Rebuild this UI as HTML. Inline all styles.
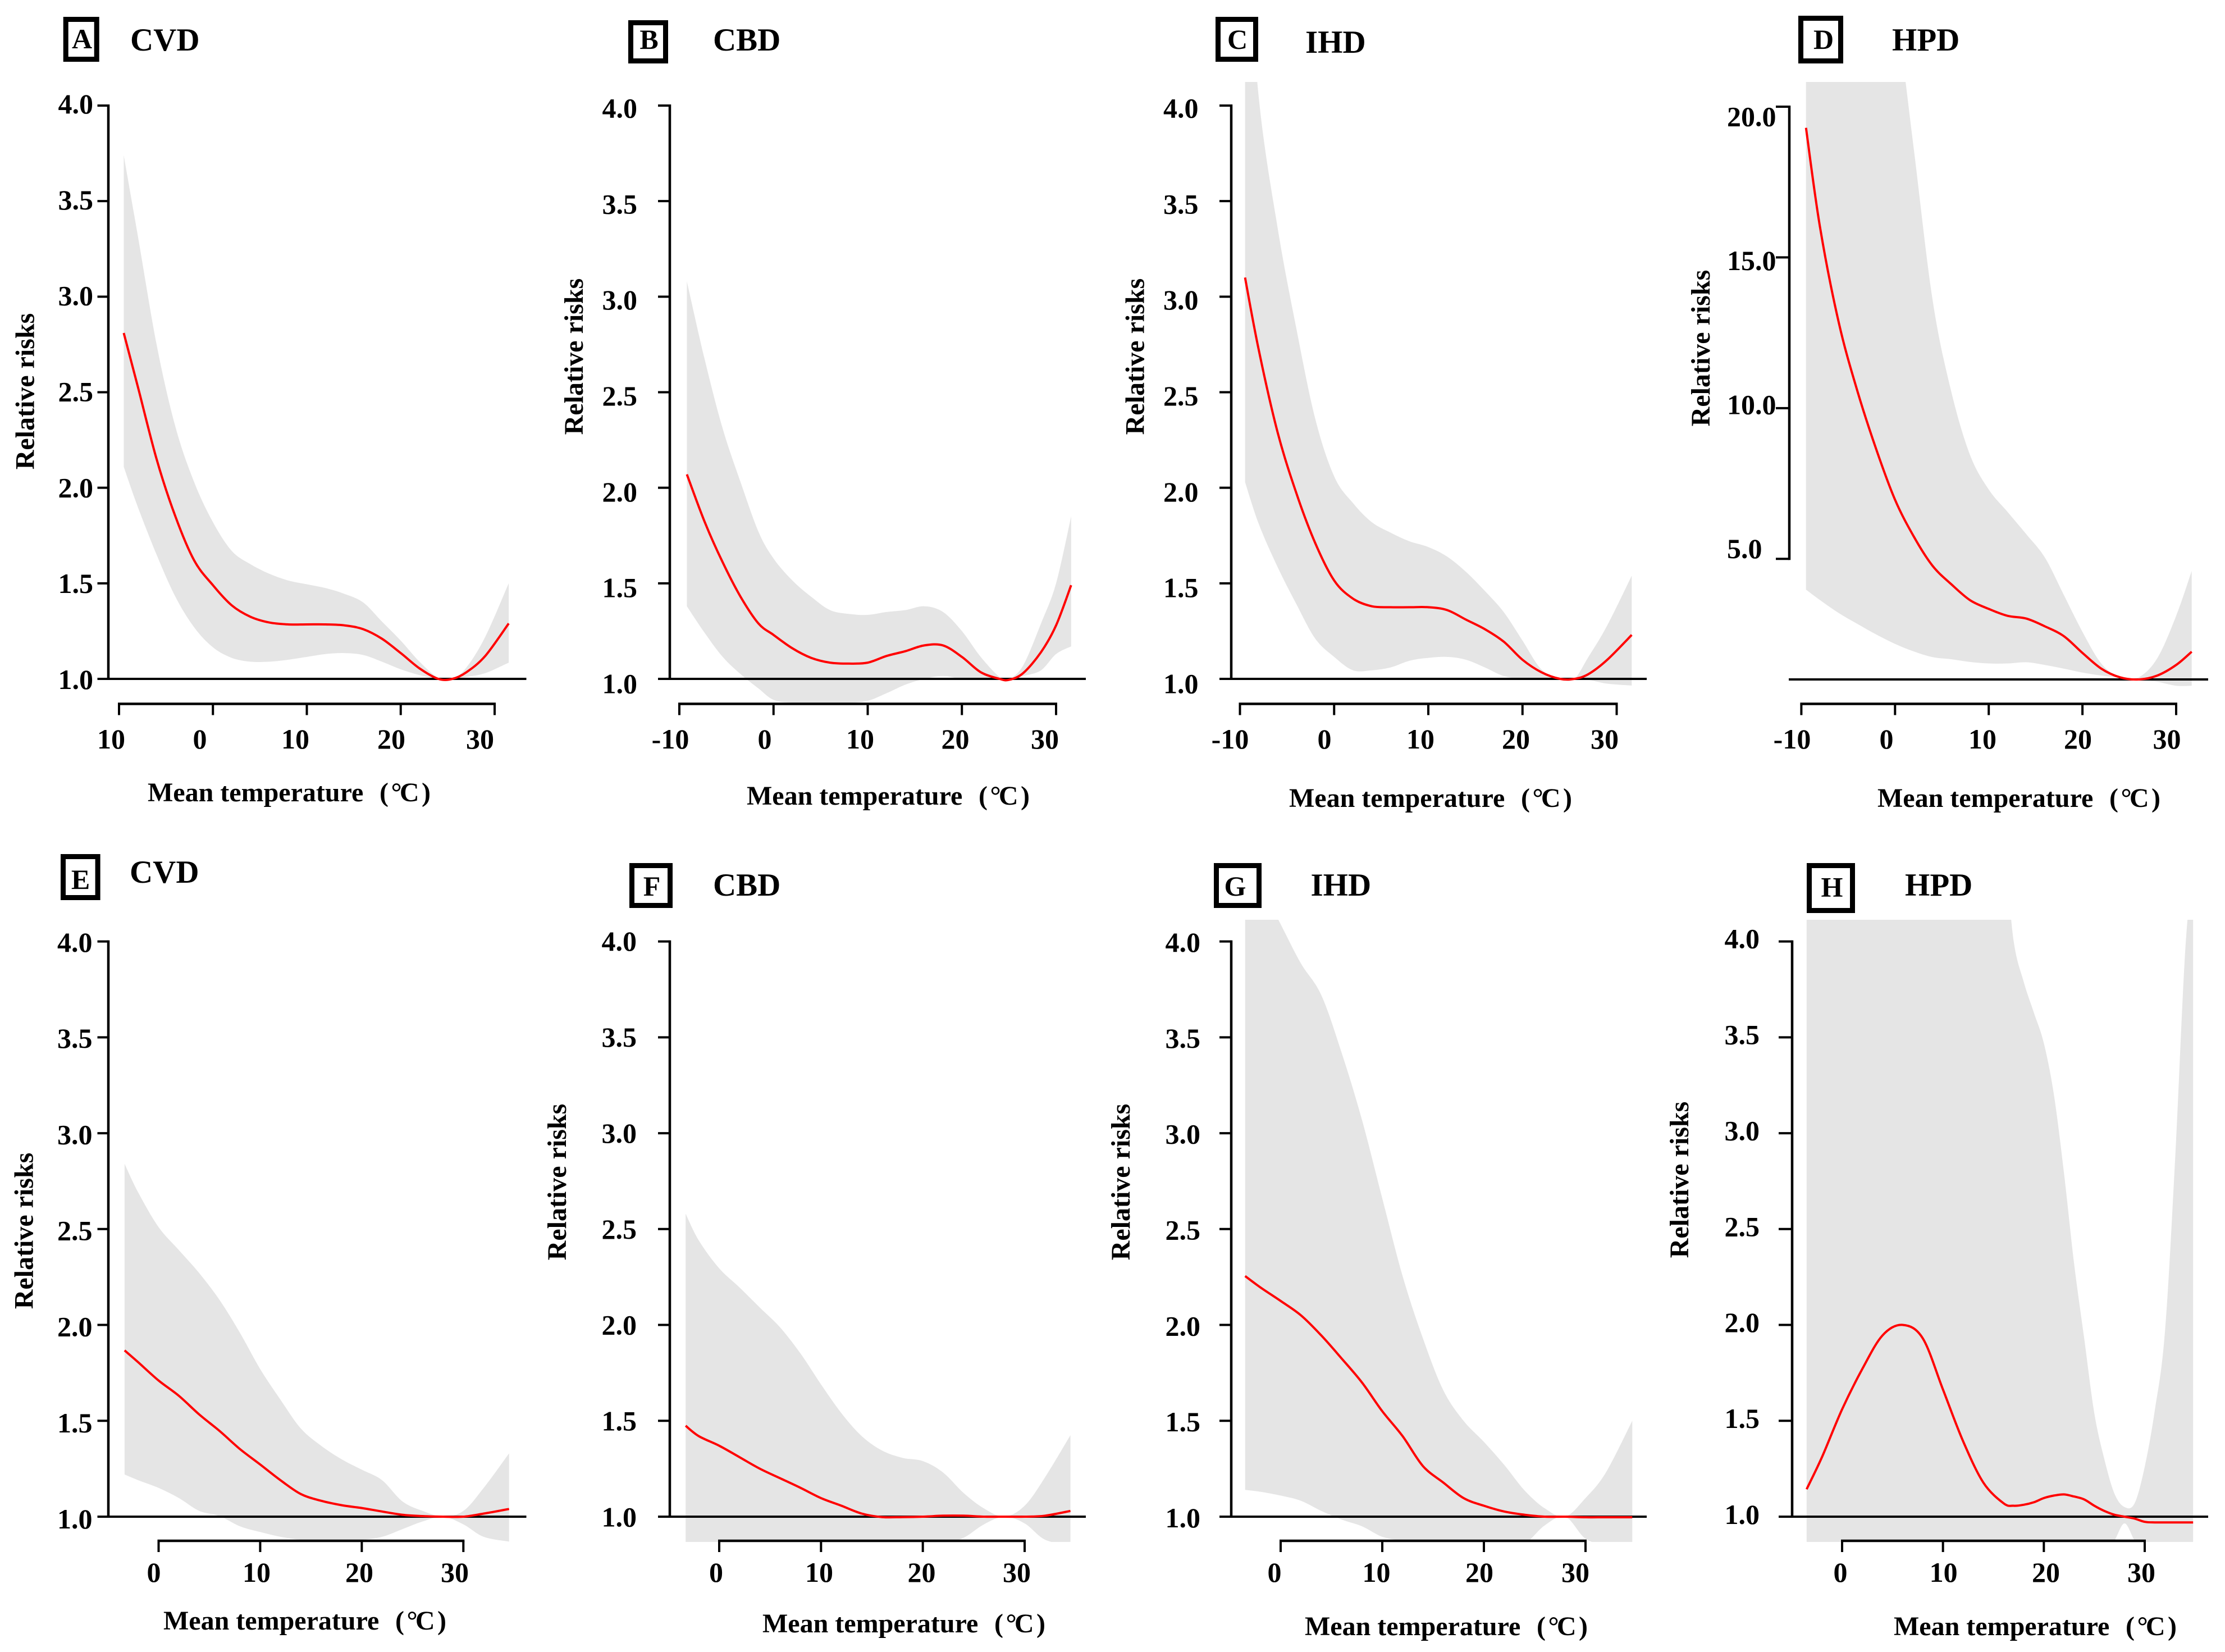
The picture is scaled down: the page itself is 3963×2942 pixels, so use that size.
<!DOCTYPE html>
<html lang="en">
<head>
<meta charset="utf-8">
<title>Relative risks by mean temperature</title>
<style>
  html, body { margin: 0; padding: 0; background: #ffffff; }
  #figure { display: block; }
  text { font-family: "Liberation Serif", serif; font-weight: bold; fill: #000000; }
</style>
</head>
<body>
<svg id="figure" xmlns="http://www.w3.org/2000/svg" width="3963" height="2942" viewBox="0 0 3963 2942"></svg>
<script>
// ---- tick values and labels ----
const yTicksRR = [4, 3.5, 3, 2.5, 2, 1.5, 1];
const yLabelsRR = ["4.0", "3.5", "3.0", "2.5", "2.0", "1.5", "1.0"];
const yTicksD = [20, 15, 10, 5];
const yLabelsD = ["20.0", "15.0", "10.0", "5.0"];
const xTicksTop = [-10, 0, 10, 20, 30];
const xLabelsA = ["10", "0", "10", "20", "30"];
const xLabelsTop = ["-10", "0", "10", "20", "30"];
const xTicksBottom = [0, 10, 20, 30];
const xLabelsBottom = ["0", "10", "20", "30"];

// ---- Panel A: CVD ----
const tempsA = [-9.5,-8,-6,-4,-2,0,2,4,6,8,10,12,14,16,18,20,22,24,25.5,27,29,31.5];
const meanA = [2.81,2.53,2.15,1.85,1.62,1.49,1.385,1.325,1.295,1.285,1.285,1.285,1.28,1.26,1.21,1.135,1.055,1.0,1.0,1.035,1.12,1.29];
const upperA = [3.74,3.32,2.75,2.32,2.03,1.82,1.67,1.60,1.55,1.515,1.495,1.475,1.445,1.40,1.30,1.20,1.09,1.005,1.0,1.06,1.22,1.50];
const lowerA = [2.11,1.90,1.65,1.43,1.27,1.165,1.11,1.09,1.09,1.10,1.115,1.13,1.135,1.125,1.09,1.05,1.02,1.0,1.0,1.01,1.03,1.085];

// ---- Panel B: CBD ----
const tempsB = [-9.2,-7.3,-5.4,-3.5,-1.6,0,2,4,6,8,10,12,14,16,18,20,22,24,25,26.5,28.4,30,31.6];
const meanB = [2.07,1.82,1.61,1.43,1.29,1.23,1.16,1.11,1.085,1.08,1.085,1.12,1.145,1.175,1.175,1.115,1.035,1.0,0.995,1.03,1.14,1.28,1.49];
const upperB = [3.08,2.67,2.31,2.03,1.77,1.63,1.515,1.43,1.36,1.34,1.335,1.35,1.36,1.38,1.35,1.25,1.115,1.01,1.0,1.07,1.29,1.5,1.85];
const lowerB = [1.38,1.24,1.115,1.025,0.95,0.89,0.875,0.875,0.875,0.875,0.885,0.925,0.97,1.0,1.015,1.0,1.0,1.0,1.0,1.015,1.045,1.13,1.17];

// ---- Panel C: IHD ----
const tempsC = [-9.46,-8,-6,-4,-2,0,2,4,6,8,10,12,14,16,18,20,22,24,25.5,27,29,31.6];
const meanC = [3.10,2.72,2.29,1.97,1.71,1.515,1.42,1.38,1.375,1.375,1.375,1.36,1.31,1.26,1.195,1.10,1.035,1.0,1.0,1.025,1.10,1.23];
const upperC = [5.0,4.04,3.36,2.83,2.36,2.06,1.92,1.82,1.765,1.72,1.69,1.64,1.56,1.46,1.35,1.2,1.05,1.0,1.0,1.115,1.28,1.54];
const lowerC = [2.03,1.81,1.585,1.39,1.21,1.115,1.045,1.045,1.06,1.095,1.11,1.115,1.10,1.06,1.015,1.0,1.0,1.0,1.0,0.995,0.975,0.965];

// ---- Panel D: HPD ----
const tempsD = [-9.5,-8,-6,-4,-2,0,2,4,6,8,10,12,14,16,18,20,22,24,26,28,30,31.66];
const meanD = [19.3,15.99,12.83,10.55,8.63,6.96,5.74,4.77,4.16,3.63,3.34,3.11,3.02,2.76,2.44,1.88,1.36,1.07,1.0,1.13,1.48,1.92];
const upperD = [36,35,33,30,27,23.5,18.6,13.6,10.55,8.45,7.3,6.56,5.82,5.04,3.81,2.58,1.53,1.07,1.07,1.71,3.11,4.6];
const lowerD = [3.98,3.63,3.2,2.84,2.49,2.18,1.93,1.74,1.67,1.58,1.53,1.53,1.57,1.48,1.36,1.23,1.13,1.06,1.0,0.92,0.79,0.79];

// ---- Panel E: CVD ----
const tempsE = [-3.35,-2,0,2,4,6,8,10,12,14,16,18,20,22,24,26,28,30,32,34.5];
const meanE = [1.867,1.805,1.71,1.63,1.533,1.447,1.353,1.272,1.19,1.118,1.083,1.06,1.045,1.027,1.01,1.003,1.0,1.0,1.016,1.04];
const upperE = [2.84,2.69,2.51,2.39,2.27,2.13,1.96,1.77,1.61,1.46,1.37,1.30,1.245,1.19,1.08,1.03,1.0,1.03,1.15,1.33];
const lowerE = [1.22,1.19,1.15,1.097,1.03,1.003,0.95,0.92,0.895,0.88,0.88,0.88,0.88,0.895,0.935,0.975,1.0,0.96,0.895,0.87];

// ---- Panel F: CBD ----
const tempsF = [-3.3,-2,0,2,4,6,8,10,12,14,16,18,20,22,24,26,28,30,32,34.5];
const meanF = [1.474,1.42,1.37,1.31,1.25,1.20,1.15,1.097,1.057,1.016,0.998,0.998,1.0,1.005,1.005,1.0,1.0,1.0,1.005,1.03];
const upperF = [2.58,2.44,2.295,2.195,2.09,1.986,1.85,1.69,1.54,1.42,1.345,1.307,1.29,1.23,1.124,1.043,1.0,1.057,1.205,1.425];
const lowerF = [0.85,0.85,0.85,0.85,0.85,0.85,0.85,0.85,0.85,0.85,0.85,0.85,0.85,0.86,0.89,0.96,1.0,0.965,0.88,0.85];

// ---- Panel G: IHD ----
const tempsG = [-3.5,-2,0,2,4,6,8,10,12,14,16,18,20,22,24,26,28,30,32,34.6];
const meanG = [2.255,2.196,2.125,2.05,1.945,1.825,1.70,1.55,1.42,1.264,1.178,1.097,1.057,1.027,1.01,1.0,1.0,0.997,0.997,0.997];
const upperG = [4.5,4.3,4.09,3.885,3.72,3.42,3.07,2.66,2.255,1.93,1.66,1.50,1.39,1.27,1.137,1.043,1.0,1.097,1.23,1.50];
const lowerG = [1.14,1.13,1.11,1.083,1.03,0.985,0.95,0.895,0.875,0.86,0.86,0.86,0.86,0.86,0.86,0.955,1.0,0.885,0.855,0.85];

// ---- Panel H: HPD ----
const tempsH = [-3.52,-2,0,2,4,6,8,10,12,14,16,17,18,19,20,21,22,23,24,25,26,27,28,29,30,31,32,33,34,34.8];
const meanH = [1.143,1.31,1.56,1.77,1.945,2.0,1.93,1.663,1.393,1.178,1.07,1.057,1.062,1.075,1.097,1.11,1.116,1.105,1.09,1.057,1.03,1.01,1.0,0.99,0.973,0.97,0.97,0.97,0.97,0.97];
const upperH = [5,5,5,5,5,5,5,5,5,5,4.5,4.005,3.79,3.63,3.47,3.2,2.79,2.32,1.93,1.54,1.30,1.12,1.05,1.07,1.26,1.555,1.96,2.85,3.94,4.4];
const lowerH = [0.8,0.8,0.8,0.8,0.8,0.8,0.8,0.8,0.8,0.8,0.8,0.8,0.8,0.8,0.8,0.8,0.8,0.8,0.8,0.8,0.8,0.875,0.965,0.875,0.8,0.8,0.8,0.8,0.8,0.8];

// ---- Panel layout (axis ranges and text placement) ----
const row1 = { clipTop: 146, clipBottom: 1255, axisY: 1253.5, tickLabelY: 1333 };
const row2 = { clipTop: 1638, clipBottom: 2746, axisY: 2744, tickLabelY: 2817 };

const panels = [
  { id: "A", title: "CVD", row: row1, temps: tempsA, mean: meanA, upper: upperA, lower: lowerA,
    xTicks: xTicksTop, xLabels: xLabelsA, yTicks: yTicksRR, yLabels: yLabelsRR,
    xDomain: [-10, 30], xRange: [212, 881], yDomain: [1, 4], yRange: [1209, 188],
    axisX: 193, tickLeft: 173.5, baseRight: 937.5, yLabelRight: 166, yLabelTop: 202, yLabelBottom: 1227,
    xLabelAt: [198, 356, 526, 697, 855], yTitleX: 60.6, yTitleY: 697,
    titleX: 232, titleY: 90, box: [112.7, 30, 176.7, 110], letterX: 146, letterY: 86,
    xTitleX: 263, xTitleY: 1427 },
  { id: "B", title: "CBD", row: row1, temps: tempsB, mean: meanB, upper: upperB, lower: lowerB,
    xTicks: xTicksTop, xLabels: xLabelsTop, yTicks: yTicksRR, yLabels: yLabelsRR,
    xDomain: [-10, 30], xRange: [1210, 1881], yDomain: [1, 4], yRange: [1209, 188],
    axisX: 1193, tickLeft: 1172, baseRight: 1934, yLabelRight: 1135, yLabelTop: 209.5, yLabelBottom: 1234.5,
    xLabelAt: [1194, 1362, 1532, 1701.5, 1861], yTitleX: 1038, yTitleY: 635,
    titleX: 1270, titleY: 90, box: [1119, 36, 1190, 113], letterX: 1156, letterY: 87,
    xTitleX: 1330, xTitleY: 1433 },
  { id: "C", title: "IHD", row: row1, temps: tempsC, mean: meanC, upper: upperC, lower: lowerC,
    xTicks: xTicksTop, xLabels: xLabelsTop, yTicks: yTicksRR, yLabels: yLabelsRR,
    xDomain: [-10, 30], xRange: [2208.5, 2879.5], yDomain: [1, 4], yRange: [1209, 188],
    axisX: 2193, tickLeft: 2172, baseRight: 2933, yLabelRight: 2134.5, yLabelTop: 209.5, yLabelBottom: 1234.5,
    xLabelAt: [2191, 2359, 2530, 2700, 2858], yTitleX: 2037.6, yTitleY: 635,
    titleX: 2325, titleY: 94, box: [2165, 30, 2241, 110], letterX: 2204, letterY: 87,
    xTitleX: 2296, xTitleY: 1437 },
  { id: "D", title: "HPD", row: row1, temps: tempsD, mean: meanD, upper: upperD, lower: lowerD,
    xTicks: xTicksTop, xLabels: xLabelsTop, yTicks: yTicksD, yLabels: yLabelsD,
    xDomain: [-10, 30], xRange: [3208.4, 3876], yDomain: [1, 20], yRange: [1210, 190],
    axisX: 3187, tickLeft: 3163, baseRight: 3933, baseLeft: 3186, yLabelLeft: 3076, yLabelTop: 224.6, yLabelBottom: 994,
    xLabelAt: [3192, 3360, 3531, 3701, 3859.5], yTitleX: 3045, yTitleY: 620,
    titleX: 3370, titleY: 90, box: [3203, 28, 3283, 113], letterX: 3248, letterY: 87,
    xTitleX: 3344, xTitleY: 1437 },
  { id: "E", title: "CVD", row: row2, temps: tempsE, mean: meanE, upper: upperE, lower: lowerE,
    xTicks: xTicksBottom, xLabels: xLabelsBottom, yTicks: yTicksRR, yLabels: yLabelsRR,
    xDomain: [0, 30], xRange: [282.5, 825.3], yDomain: [1, 4], yRange: [2701, 1676.6],
    axisX: 193, tickLeft: 173.5, baseRight: 937.5, yLabelRight: 164.5, yLabelTop: 1695, yLabelBottom: 2722,
    xLabelAt: [274, 457, 640, 810], yTitleX: 58.7, yTitleY: 2192,
    titleX: 231, titleY: 1572, box: [108, 1521, 178.6, 1603], letterX: 143.5, letterY: 1583,
    xTitleX: 291, xTitleY: 2902 },
  { id: "F", title: "CBD", row: row2, temps: tempsF, mean: meanF, upper: upperF, lower: lowerF,
    xTicks: xTicksBottom, xLabels: xLabelsBottom, yTicks: yTicksRR, yLabels: yLabelsRR,
    xDomain: [0, 30], xRange: [1281, 1825], yDomain: [1, 4], yRange: [2701, 1676.6],
    axisX: 1193, tickLeft: 1172, baseRight: 1934, yLabelRight: 1134, yLabelTop: 1693, yLabelBottom: 2718.5,
    xLabelAt: [1275.5, 1459, 1641.5, 1811], yTitleX: 1008, yTitleY: 2105,
    titleX: 1270, titleY: 1595, box: [1121, 1537, 1198, 1617], letterX: 1161, letterY: 1595,
    xTitleX: 1358, xTitleY: 2907 },
  { id: "G", title: "IHD", row: row2, temps: tempsG, mean: meanG, upper: upperG, lower: lowerG,
    xTicks: xTicksBottom, xLabels: xLabelsBottom, yTicks: yTicksRR, yLabels: yLabelsRR,
    xDomain: [0, 30], xRange: [2281, 2824], yDomain: [1, 4], yRange: [2701, 1676.6],
    axisX: 2193, tickLeft: 2172, baseRight: 2933, yLabelRight: 2138, yLabelTop: 1695, yLabelBottom: 2720,
    xLabelAt: [2270, 2451.5, 2635, 2806], yTitleX: 2012, yTitleY: 2105,
    titleX: 2334.5, titleY: 1595, box: [2162, 1537, 2247, 1617], letterX: 2200, letterY: 1595,
    xTitleX: 2324, xTitleY: 2912 },
  { id: "H", title: "HPD", row: row2, temps: tempsH, mean: meanH, upper: upperH, lower: lowerH,
    xTicks: xTicksBottom, xLabels: xLabelsBottom, yTicks: yTicksRR, yLabels: yLabelsRR,
    xDomain: [0, 30], xRange: [3281, 3820], yDomain: [1, 4], yRange: [2701, 1676.6],
    axisX: 3192, tickLeft: 3168, baseRight: 3933, yLabelRight: 3134, yLabelTop: 1688.5, yLabelBottom: 2714,
    xLabelAt: [3278, 3461.6, 3644, 3814], yTitleX: 3007, yTitleY: 2101,
    titleX: 3393, titleY: 1595, box: [3218, 1537, 3304, 1626], letterX: 3263, letterY: 1596.5,
    xTitleX: 3373, xTitleY: 2912 }
];

const SVG_NS = "http://www.w3.org/2000/svg";
const root = document.getElementById("figure");

function make(tag, geometry, parent, text) {
  const node = document.createElementNS(SVG_NS, tag);
  Object.keys(geometry).forEach(function (key) { node.setAttribute(key, geometry[key]); });
  if (text !== undefined) { node.textContent = text; }
  parent.appendChild(node);
  return node;
}

function linearScale(domain, range) {
  return function (v) {
    return range[0] + (v - domain[0]) * (range[1] - range[0]) / (domain[1] - domain[0]);
  };
}

// Catmull-Rom segments through the given points, appended after the current point.
function curveThrough(pts) {
  let d = "";
  for (let i = 0; i < pts.length - 1; i++) {
    const p0 = pts[Math.max(i - 1, 0)];
    const p1 = pts[i];
    const p2 = pts[i + 1];
    const p3 = pts[Math.min(i + 2, pts.length - 1)];
    const c1x = p1[0] + (p2[0] - p0[0]) / 6;
    const c1y = p1[1] + (p2[1] - p0[1]) / 6;
    const c2x = p2[0] - (p3[0] - p1[0]) / 6;
    const c2y = p2[1] - (p3[1] - p1[1]) / 6;
    d += " C" + c1x.toFixed(1) + " " + c1y.toFixed(1) + " " + c2x.toFixed(1) + " " + c2y.toFixed(1) + " " + p2[0].toFixed(1) + " " + p2[1].toFixed(1);
  }
  return d;
}

function drawPanel(p) {
  const x = linearScale(p.xDomain, p.xRange);
  const y = linearScale(p.yDomain, p.yRange);

  const panel = make("g", {}, root);
  
  

  // clip for the confidence band
  const clip = make("clipPath", { id: "clip-" + p.id }, panel);
  make("rect", { x: p.axisX, y: p.row.clipTop, width: p.baseRight - p.axisX, height: p.row.clipBottom - p.row.clipTop }, clip);

  // confidence band
  const upperPts = p.temps.map(function (t, i) { return [x(t), y(p.upper[i])]; });
  const lowerPts = p.temps.map(function (t, i) { return [x(t), y(p.lower[i])]; }).reverse();
  const bandPath = "M" + upperPts[0][0].toFixed(1) + " " + upperPts[0][1].toFixed(1) + curveThrough(upperPts) +
    " L" + lowerPts[0][0].toFixed(1) + " " + lowerPts[0][1].toFixed(1) + curveThrough(lowerPts) + " Z";
  const band = make("path", { d: bandPath, fill: "#e5e5e5", stroke: "none", "clip-path": "url(#clip-" + p.id + ")" }, panel);
  
  

  // reference line at RR = 1
  const base = make("line", { x1: p.baseLeft !== undefined ? p.baseLeft : p.tickLeft, x2: p.baseRight, y1: y(1), y2: y(1), stroke: "#000", "stroke-width": 4 }, panel);
  
  

  // y axis
  const yTop = y(p.yTicks[0]);
  const yBottom = y(p.yTicks[p.yTicks.length - 1]);
  const yAxis = make("line", { x1: p.axisX, x2: p.axisX, y1: yTop - 2, y2: yBottom + 2, stroke: "#000", "stroke-width": 4.5 }, panel);
  
  

  p.yTicks.forEach(function (v, i) {
    const tick = make("line", { x1: p.tickLeft, x2: p.axisX, y1: y(v), y2: y(v), stroke: "#000", "stroke-width": 4 }, panel);
    
    
    const labelY = p.yLabelTop + (p.yLabelBottom - p.yLabelTop) * i / (p.yTicks.length - 1);
    const anchored = p.yLabelLeft !== undefined ? { x: p.yLabelLeft, "text-anchor": "start" } : { x: p.yLabelRight, "text-anchor": "end" };
    const label = make("text", { x: anchored.x, y: labelY, "text-anchor": anchored["text-anchor"], "font-size": 50 }, panel, p.yLabels[i]);
    
    
  });

  // x axis
  const xFirst = x(p.xTicks[0]);
  const xLast = x(p.xTicks[p.xTicks.length - 1]);
  const xAxis = make("line", { x1: xFirst - 2, x2: xLast + 2, y1: p.row.axisY, y2: p.row.axisY, stroke: "#000", "stroke-width": 4.5 }, panel);
  
  

  p.xTicks.forEach(function (v, i) {
    const tick = make("line", { x1: x(v), x2: x(v), y1: p.row.axisY, y2: p.row.axisY + 20, stroke: "#000", "stroke-width": 4 }, panel);
    
    
    const label = make("text", { x: p.xLabelAt[i], y: p.row.tickLabelY, "text-anchor": "middle", "font-size": 50 }, panel, p.xLabels[i]);
    
    
  });

  // mean curve
  const meanPts = p.temps.map(function (t, i) { return [x(t), y(p.mean[i])]; });
  const meanPath = "M" + meanPts[0][0].toFixed(1) + " " + meanPts[0][1].toFixed(1) + curveThrough(meanPts);
  const curve = make("path", { d: meanPath, fill: "none", stroke: "#ff0000", "stroke-width": 4 }, panel);
  
  

  // axis titles
  const yTitle = make("text", { x: p.yTitleX, y: p.yTitleY, "text-anchor": "middle", "font-size": 48, transform: "rotate(-90 " + p.yTitleX + " " + p.yTitleY + ")" }, panel, "Relative risks");
  
  

  const xTitle = make("text", { x: p.xTitleX, y: p.xTitleY, "font-size": 48 }, panel, "Mean temperature");
  
  

  const xUnit = make("text", { x: p.xTitleX + 413, y: p.xTitleY, "font-size": 48, textLength: 91 }, panel, "( °C )");
  
  

  // panel letter box and title
  const b = p.box;
  const frame = make("rect", { x: b[0] + 4.5, y: b[1] + 4.5, width: b[2] - b[0] - 9, height: b[3] - b[1] - 9, fill: "#fff", stroke: "#000", "stroke-width": 9 }, panel);
  
  

  const letter = make("text", { x: p.letterX, y: p.letterY, "text-anchor": "middle", "font-size": 50 }, panel, p.id);
  
  

  const title = make("text", { x: p.titleX, y: p.titleY, "font-size": 57 }, panel, p.title);
  
  
}

panels.forEach(drawPanel);
</script>
</body>
</html>
